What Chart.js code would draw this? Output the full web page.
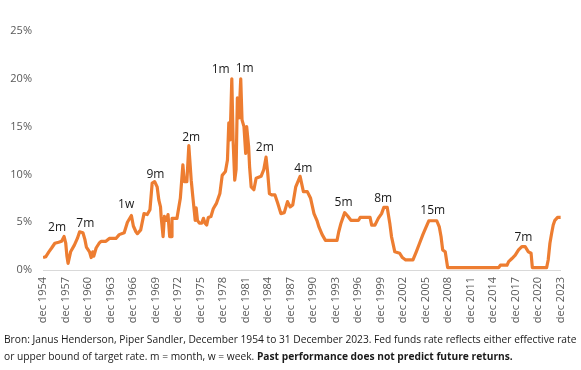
<!DOCTYPE html>
<html lang="en">
<head>
<meta charset="utf-8">
<title>Fed funds rate</title>
<script src="https://cdn.jsdelivr.net/npm/chart.js@4.4.0/dist/chart.umd.min.js"></script>
<style>
  body { margin: 0; background: #fff; width: 581px; height: 370px; overflow: hidden; }
  #wrap { position: absolute; left: 0; top: 0; width: 581px; height: 335px; }
  #note { position: absolute; left: 4px; top: 331px; font-family: "Open Sans", sans-serif;
          font-size: 10.5px; line-height: 16.5px; color: #1a1a1a; white-space: nowrap; }
  #note div { display: table; }
</style>
</head>
<body>
<div id="wrap"><canvas id="chart"></canvas></div>
<div id="note">
  <div id="line1">Bron: Janus Henderson, Piper Sandler, December 1954 to 31 December 2023. Fed funds rate reflects either effective rate</div>
  <div>or upper bound of target rate. m = month, w = week. <b>Past performance does not predict future returns.</b></div>
</div>
<script>
// decimal year -> fed funds rate (%)
const dates = [
  1954.92, 1955.3, 1955.7, 1956.07, 1956.5, 1957.0, 1957.4, 1957.73, 1957.95, 1958.1,
  1958.26, 1958.6, 1959.1, 1959.5, 1959.8, 1960.24, 1960.5, 1960.7, 1961.12, 1961.34,
  1961.55, 1961.69, 1962.0, 1962.4, 1962.66, 1963.3, 1963.76, 1964.64, 1965.08, 1965.74,
  1966.17, 1966.7, 1966.96, 1967.3, 1967.5, 1967.94, 1968.38, 1968.81, 1969.17, 1969.47,
  1969.79, 1970.13, 1970.36, 1970.58, 1970.66, 1970.92, 1971.1, 1971.37, 1971.58, 1971.8,
  1972.03, 1972.11, 1972.77, 1973.22, 1973.56, 1973.75, 1974.09, 1974.35, 1974.67, 1974.88,
  1975.1, 1975.2, 1975.33, 1975.5, 1975.76, 1976.07, 1976.3, 1976.52, 1976.73, 1976.95,
  1977.3, 1977.61, 1978.05, 1978.49, 1978.8, 1979.23, 1979.5, 1979.68, 1979.85, 1980.08,
  1980.25, 1980.47, 1980.65, 1980.82, 1981.04, 1981.27, 1981.44, 1981.7, 1981.93, 1982.06,
  1982.32, 1982.45, 1982.66, 1983.02, 1983.32, 1983.98, 1984.34, 1984.64, 1984.87, 1985.09,
  1985.4, 1985.83, 1986.19, 1986.62, 1987.07, 1987.5, 1987.86, 1988.2, 1988.6, 1989.18,
  1989.62, 1990.14, 1990.58, 1991.03, 1991.46, 1991.69, 1992.12, 1992.56, 1994.1, 1994.33,
  1994.63, 1995.12, 1995.52, 1995.95, 1996.97, 1997.18, 1998.5, 1998.72, 1999.16, 1999.6,
  2000.04, 2000.34, 2000.79, 2001.13, 2001.36, 2001.8, 2002.45, 2002.81, 2003.25, 2004.22,
  2004.66, 2005.1, 2005.54, 2005.98, 2006.33, 2007.39, 2007.73, 2007.96, 2008.18, 2008.52,
  2008.84, 2015.64, 2015.87, 2016.75, 2016.97, 2017.41, 2017.85, 2018.29, 2018.73, 2019.17,
  2019.6, 2019.96, 2020.13, 2022.03, 2022.24, 2022.47, 2022.7, 2022.91, 2023.13, 2023.49,
  2023.92
];
const rates = [
  1.3, 1.4, 1.9, 2.3, 2.8, 2.9, 3.0, 3.5, 2.8, 1.5,
  0.7, 1.9, 2.6, 3.3, 4.0, 3.9, 3.2, 2.4, 1.9, 1.3,
  1.9, 1.45, 2.3, 2.8, 3.0, 3.0, 3.3, 3.3, 3.7, 3.9,
  5.0, 5.7, 4.6, 4.0, 3.8, 4.2, 5.9, 5.8, 6.3, 9.1,
  9.25, 8.7, 7.3, 6.6, 5.6, 3.5, 5.6, 5.2, 5.8, 3.5,
  3.5, 5.4, 5.4, 7.5, 11.0, 9.25, 9.25, 13.0, 9.4, 7.7,
  6.0, 5.2, 6.5, 5.2, 4.9, 4.9, 5.4, 4.9, 4.7, 5.5,
  5.6, 6.4, 7.0, 8.0, 9.9, 10.3, 11.5, 15.4, 13.6, 20.0,
  13.6, 9.4, 10.5, 18.0, 15.9, 20.0, 15.7, 15.0, 12.2, 15.0,
  12.9, 10.8, 8.7, 8.4, 9.6, 9.8, 10.5, 11.8, 10.1, 8.0,
  7.85, 7.85, 7.0, 5.9, 6.0, 7.15, 6.6, 6.8, 8.7, 9.8,
  8.2, 8.2, 7.5, 5.9, 5.1, 4.5, 3.7, 3.1, 3.1, 4.0,
  4.9, 6.0, 5.65, 5.2, 5.2, 5.5, 5.5, 4.7, 4.7, 5.4,
  5.9, 6.55, 6.55, 4.9, 3.5, 1.9, 1.75, 1.3, 1.05, 1.05,
  1.9, 2.8, 3.7, 4.5, 5.15, 5.15, 4.5, 3.5, 2.1, 1.9,
  0.25, 0.25, 0.5, 0.5, 0.87, 1.2, 1.55, 2.1, 2.45, 2.45,
  1.9, 1.75, 0.25, 0.25, 1.05, 2.8, 3.85, 4.7, 5.2, 5.5,
  5.5
];

const tickYears = [1954, 1957, 1960, 1963, 1966, 1969, 1972, 1975, 1978, 1981, 1984, 1987,
                   1990, 1993, 1996, 1999, 2002, 2005, 2008, 2011, 2014, 2017, 2020, 2023];
const yTicks = [0, 5, 10, 15, 20, 25];

// hiking-cycle labels (where the text sits)
const noteYears = [1956.8, 1960.55, 1966.0, 1969.9, 1974.67, 1978.6, 1981.8, 1984.47, 1989.6, 1994.97, 2000.26, 2006.86, 2018.94];
const noteRates = [4.47, 4.9, 6.8, 10.0, 13.9, 21.0, 21.1, 12.85, 10.65, 7.1, 7.47, 6.2, 3.4];
const noteTexts = ['2m', '7m', '1w', '9m', '2m', '1m', '1m', '2m', '4m', '5m', '8m', '15m', '7m'];

const DEC = 0.92; // december offset within the year

// squeeze the source note so the first line ends where the original does
const note = document.getElementById('note');
const w = document.getElementById('line1').getBoundingClientRect().width;
note.style.fontSize = (10.5 * 573 / w) + 'px';

const notesPlugin = {
  id: 'notes',
  afterDatasetsDraw(chart) {
    const { ctx, scales } = chart;
    ctx.save();
    ctx.font = '12px "Open Sans", sans-serif';
    ctx.fillStyle = '#1a1a1a';
    ctx.textAlign = 'center';
    ctx.textBaseline = 'middle';
    noteTexts.forEach((t, i) => {
      ctx.fillText(t, scales.x.getPixelForValue(noteYears[i]), scales.y.getPixelForValue(noteRates[i]));
    });
    ctx.restore();
  }
};

new Chart(document.getElementById('chart'), {
  type: 'line',
  data: {
    datasets: [{
      data: dates.map((d, i) => ({ x: d, y: rates[i] })),
      borderColor: '#ED7D31',
      borderWidth: 3.2,
      pointRadius: 0,
      tension: 0,
      borderJoinStyle: 'round'
    }]
  },
  options: {
    responsive: true,
    maintainAspectRatio: false,
    animation: false,
    layout: { padding: { top: 31, right: 15, left: 0, bottom: 0 } },
    plugins: {
      legend: { display: false },
      tooltip: { enabled: false }
    },
    scales: {
      x: {
        type: 'linear',
        min: 1954 + DEC,
        max: 2023 + DEC,
        afterBuildTicks: scale => { scale.ticks = tickYears.map(y => ({ value: y + DEC })); },
        afterFit: scale => { scale.height = 65; },
        grid: { display: false, drawTicks: false },
        border: { display: true, color: '#d9d9d9', width: 1 },
        ticks: {
          minRotation: 90,
          maxRotation: 90,
          autoSkip: false,
          padding: 7,
          color: '#595959',
          font: { family: '"Open Sans", sans-serif', size: 11 },
          callback: (v, i) => 'dec ' + tickYears[i]
        }
      },
      y: {
        min: 0,
        max: 25,
        afterBuildTicks: scale => { scale.ticks = yTicks.map(v => ({ value: v })); },
        afterFit: scale => { scale.width = 43; },
        grid: { display: false, drawTicks: false },
        border: { display: false },
        ticks: {
          padding: 11,
          color: '#595959',
          font: { family: '"Open Sans", sans-serif', size: 11 },
          callback: v => v + '%'
        }
      }
    }
  },
  plugins: [notesPlugin]
});
</script>
</body>
</html>
